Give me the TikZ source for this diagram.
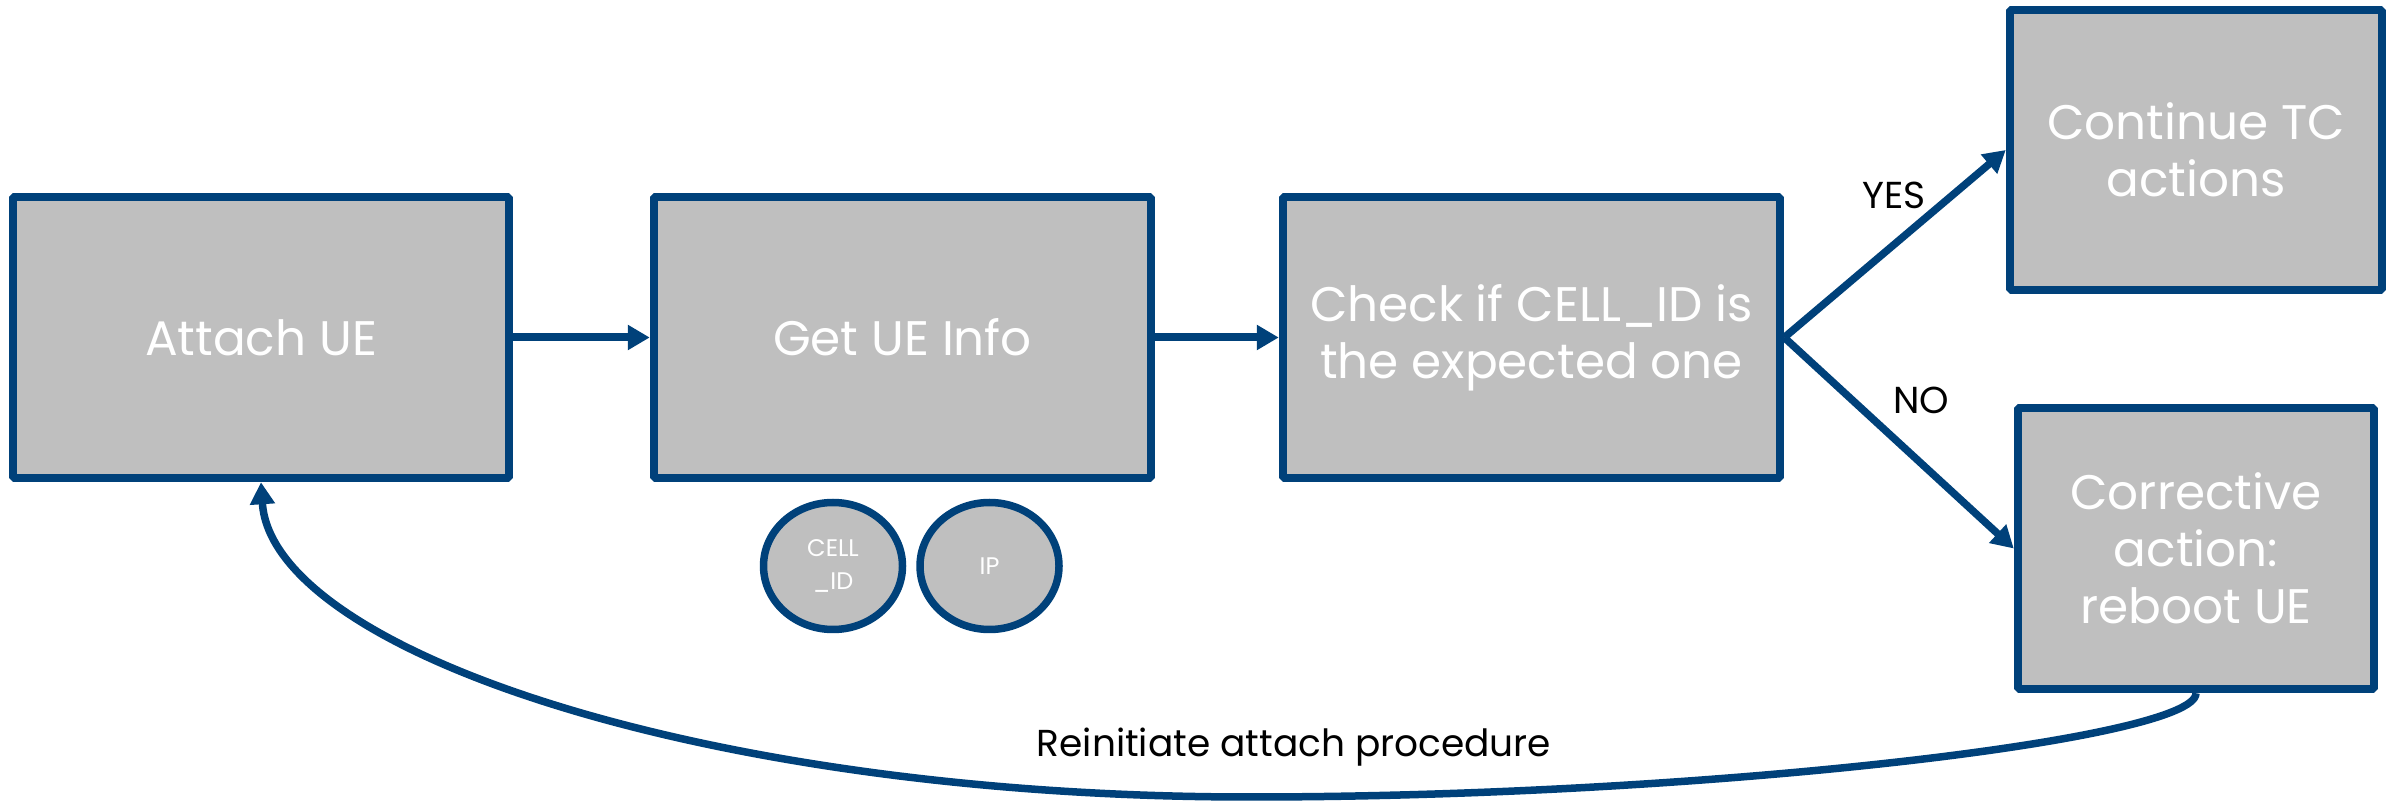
\documentclass[tikz,border=0pt]{standalone}
\usepackage{fontspec}
\setmainfont{Poppins}
\usetikzlibrary{arrows.meta,shapes.geometric}
\definecolor{ueblue}{RGB}{0,65,122}
\definecolor{uegrey}{RGB}{191,191,191}

\begin{document}
\begin{tikzpicture}[>={Triangle[length=22bp,width=24bp]},line join=bevel,
  stepbox/.style={draw=ueblue,line width=8.5bp,fill=uegrey,text=white,inner sep=0pt,
    align=center,font=\fontsize{48.5bp}{57bp}\selectfont},
  infobubble/.style={ellipse,draw=ueblue,line width=7.5bp,fill=uegrey,text=white,inner sep=0pt,
    minimum width=139bp,minimum height=127bp,align=center,font=\fontsize{24bp}{33bp}\selectfont},
  flow/.style={ueblue,line width=8bp},
  flowlabel/.style={anchor=base,inner sep=0pt,font=\fontsize{37.5bp}{44bp}\selectfont}]
\useasboundingbox (0bp,0bp) rectangle (2392bp,801bp);
%%
\node (attach) at (261bp,463.5bp) [stepbox,minimum width=496bp,minimum height=281bp] {Attach UE};
  \node (getinfo) at (902.5bp,463.5bp) [stepbox,minimum width=497bp,minimum height=281bp] {Get UE Info};
  \node (check) at (1531.5bp,463.5bp) [stepbox,minimum width=497bp,minimum height=281bp] {Check if CELL\_ID is\\the expected one};
  \node (cont) at (2196bp,651bp) [stepbox,minimum width=372bp,minimum height=280bp] {Continue TC\\actions};
  \node (corr) at (2196bp,252.5bp) [stepbox,minimum width=356bp,minimum height=281bp] {Corrective\\action:\\reboot UE};
  \node (cellid) at (833bp,235bp) [infobubble] {CELL\\\_ID};
  \node (ip) at (989.5bp,235bp) [infobubble] {IP};
  \node (yes) at (1894bp,592bp) [flowlabel] {YES};
  \node (no) at (1921bp,387bp) [flowlabel] {NO};
  \node (reinit) at (1294bp,44bp) [flowlabel] {Reinitiate attach procedure};
  \draw [flow,->] (attach.east) -- (getinfo.west);
  \draw [flow,->] (getinfo.east) -- (check.west);
  \draw [flow,line width=7.5bp,->] (check.east) -- (cont.west);
  \draw [flow,line width=7.5bp,->] (check.east) -- (corr.west);
  \draw [flow,line width=7.5bp,->] (corr.south) ..controls (2196bp,61bp) and (1700bp,4bp) .. (1250bp,4bp)
    ..controls (704bp,4bp) and (272bp,151bp) .. (attach.south);
%
\end{tikzpicture}
\end{document}
